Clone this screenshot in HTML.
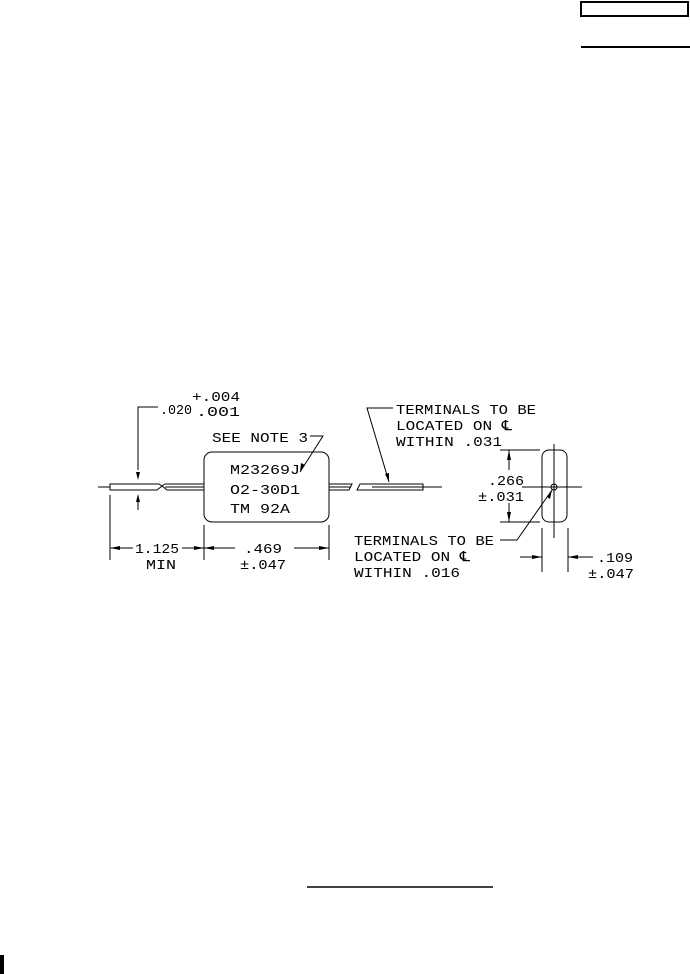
<!DOCTYPE html>
<html><head><style>html,body{margin:0;padding:0;background:#fff}svg{display:block}text{font-family:"Liberation Mono",monospace;font-size:14px;fill:#000}</style></head><body>
<svg width="690" height="974" viewBox="0 0 690 974" xmlns="http://www.w3.org/2000/svg">
<rect x="581" y="2" width="107" height="14" fill="none" stroke="#000" stroke-width="2"/>
<line x1="581" y1="47" x2="690" y2="47" stroke="#000" stroke-width="2"/>
<line x1="307" y1="887" x2="493" y2="887" stroke="#000" stroke-width="1.5"/>
<rect x="0" y="955" width="4" height="19" fill="#000"/>
<g stroke="#000" stroke-width="1" fill="none">
<line x1="98" y1="487" x2="110" y2="487"/>
<path d="M110 484 H159 L162 486 L157 490 H110 Z"/>
<path d="M165 484 L162 486 L167 490 M165 484 H204 M167 490 H204 M165 487 H204"/>
<rect x="204" y="452" width="125" height="70" rx="8"/>
<path d="M329 484 H352 L349 490 H329 M329 487 H351"/>
<path d="M360 484 H423 V490 H357 Z M372 487 H423"/>
<line x1="423" y1="487" x2="442" y2="487"/>
<path d="M158 407 H138 V470"/>
<line x1="138" y1="496" x2="138" y2="510"/>
<line x1="110" y1="495" x2="110" y2="560"/>
<line x1="204" y1="525" x2="204" y2="560"/>
<line x1="329" y1="525" x2="329" y2="560"/>
<line x1="110" y1="548" x2="133" y2="548"/>
<line x1="182" y1="548" x2="235" y2="548"/>
<line x1="294" y1="548" x2="329" y2="548"/>
<path d="M310 436 H323 L300 472"/>
<path d="M393 408 H367 L389 482"/>
<rect x="542" y="450" width="25" height="72" rx="7"/>
<line x1="522" y1="487" x2="582" y2="487"/>
<line x1="554" y1="444" x2="554" y2="538"/>
<circle cx="554" cy="487" r="3"/>
<line x1="500" y1="450" x2="540" y2="450"/>
<line x1="500" y1="522" x2="540" y2="522"/>
<line x1="509" y1="450" x2="509" y2="470"/>
<line x1="509" y1="503" x2="509" y2="522"/>
<path d="M500 540 H517 L552 490"/>
<line x1="542" y1="528" x2="542" y2="572"/>
<line x1="568" y1="528" x2="568" y2="572"/>
<line x1="520" y1="557" x2="542" y2="557"/>
<line x1="568" y1="557" x2="593" y2="557"/>
</g>
<g fill="#000">
<polygon points="138,480 136,472 140,472"/>
<polygon points="138,494 136,502 140,502"/>
<polygon points="110,548 120,546 120,550"/>
<polygon points="204,548 194,546 194,550"/>
<polygon points="204,548 214,546 214,550"/>
<polygon points="329,548 319,546 319,550"/>
<polygon points="300,472 301,463 305,465"/>
<polygon points="389,482 385,474 389,473"/>
<polygon points="509,450 507,460 511,460"/>
<polygon points="509,522 507,512 511,512"/>
<polygon points="552,490 547,497 550,499"/>
<polygon points="542,557 532,555 532,559"/>
<polygon points="568,557 578,555 578,559"/>
</g>
<text x="160" y="414" textLength="32" lengthAdjust="spacingAndGlyphs">.020</text>
<text x="192" y="401" textLength="48" lengthAdjust="spacingAndGlyphs">+.004</text>
<text x="196" y="416" textLength="44" lengthAdjust="spacingAndGlyphs">.001</text>
<text x="212" y="442" textLength="96" lengthAdjust="spacingAndGlyphs">SEE NOTE 3</text>
<text x="230" y="474" textLength="70" lengthAdjust="spacingAndGlyphs">M23269J</text>
<text x="230" y="494" textLength="70" lengthAdjust="spacingAndGlyphs">O2-30D1</text>
<text x="230" y="513" textLength="60" lengthAdjust="spacingAndGlyphs">TM 92A</text>
<text x="135" y="553" textLength="44" lengthAdjust="spacingAndGlyphs">1.125</text>
<text x="146" y="569" textLength="30" lengthAdjust="spacingAndGlyphs">MIN</text>
<text x="244" y="553" textLength="38" lengthAdjust="spacingAndGlyphs">.469</text>
<text x="240" y="569" textLength="46" lengthAdjust="spacingAndGlyphs">±.047</text>
<text x="396" y="414" textLength="140" lengthAdjust="spacingAndGlyphs">TERMINALS TO BE</text>
<text x="396" y="430" textLength="116" lengthAdjust="spacingAndGlyphs">LOCATED ON ℄</text>
<text x="396" y="446" textLength="106" lengthAdjust="spacingAndGlyphs">WITHIN .031</text>
<text x="488" y="485" textLength="36" lengthAdjust="spacingAndGlyphs">.266</text>
<text x="478" y="501" textLength="46" lengthAdjust="spacingAndGlyphs">±.031</text>
<text x="354" y="545" textLength="140" lengthAdjust="spacingAndGlyphs">TERMINALS TO BE</text>
<text x="354" y="561" textLength="116" lengthAdjust="spacingAndGlyphs">LOCATED ON ℄</text>
<text x="354" y="577" textLength="106" lengthAdjust="spacingAndGlyphs">WITHIN .016</text>
<text x="597" y="562" textLength="36" lengthAdjust="spacingAndGlyphs">.109</text>
<text x="588" y="578" textLength="46" lengthAdjust="spacingAndGlyphs">±.047</text>
</svg>
</body></html>
